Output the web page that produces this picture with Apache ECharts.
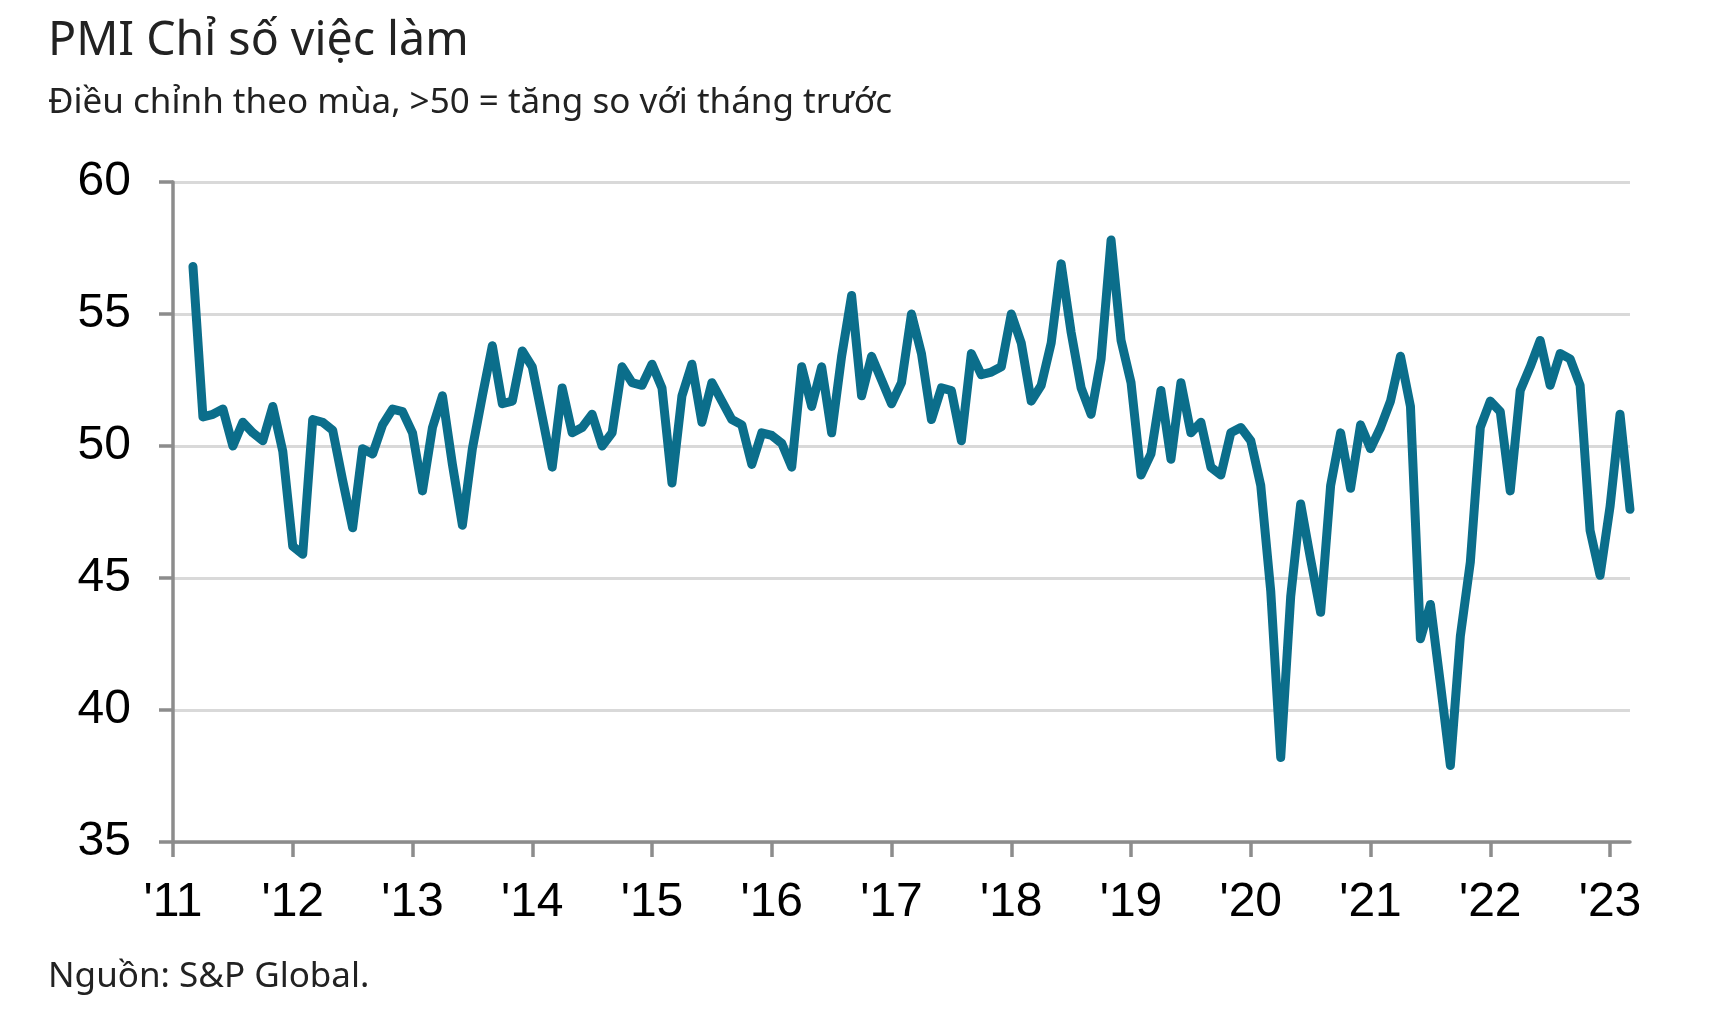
<!DOCTYPE html>
<html>
<head>
<meta charset="utf-8">
<script src="https://cdn.jsdelivr.net/npm/echarts@6/dist/echarts.min.js"></script>
<style>
  html, body { margin: 0; padding: 0; background: #ffffff; }
  #chart { width: 1715px; height: 1027px; }
</style>
</head>
<body>
<div id="chart"></div>
<script>
// ---- Data ----
const titleText = 'PMI Chỉ số việc làm';
const subtitleText = 'Điều chỉnh theo mùa, >50 = tăng so với tháng trước';
const sourceText = 'Nguồn: S&P Global.';

const years = ['2011','2012','2013','2014','2015','2016','2017','2018','2019','2020','2021','2022','2023'];
const yearLabels = ["'11","'12","'13","'14","'15","'16","'17","'18","'19","'20","'21","'22","'23"];
const lastMonth = '2023-03';
const firstDataMonth = '2011-03';

// Monthly employment index, Mar 2011 – Mar 2023
const employment = [
  56.8, 51.1, 51.2, 51.4, 50.0, 50.9, 50.5, 50.2, 51.5, 49.8, 46.2, 45.9,
  51.0, 50.9, 50.6, 48.7, 46.9, 49.9, 49.7, 50.8, 51.4, 51.3, 50.5, 48.3,
  50.7, 51.9, 49.3, 47.0, 49.9, 51.9, 53.8, 51.6, 51.7, 53.6, 53.0, 51.1,
  49.2, 52.2, 50.5, 50.7, 51.2, 50.0, 50.5, 53.0, 52.4, 52.3, 53.1, 52.2,
  48.6, 51.9, 53.1, 50.9, 52.4, 51.7, 51.0, 50.8, 49.3, 50.5, 50.4, 50.1,
  49.2, 53.0, 51.5, 53.0, 50.5, 53.4, 55.7, 51.9, 53.4, 52.5, 51.6, 52.4,
  55.0, 53.5, 51.0, 52.2, 52.1, 50.2, 53.5, 52.7, 52.8, 53.0, 55.0, 53.9,
  51.7, 52.3, 53.9, 56.9, 54.3, 52.2, 51.2, 53.3, 57.8, 54.0, 52.4, 48.9,
  49.7, 52.1, 49.5, 52.4, 50.5, 50.9, 49.2, 48.9, 50.5, 50.7, 50.2, 48.5,
  44.5, 38.2, 44.3, 47.8, 45.7, 43.7, 48.5, 50.5, 48.4, 50.8, 49.9, 50.7,
  51.7, 53.4, 51.5, 42.7, 44.0, 41.0, 37.9, 42.8, 45.6, 50.7, 51.7, 51.3,
  48.3, 52.1, 53.0, 54.0, 52.3, 53.5, 53.3, 52.3, 46.8, 45.1, 47.7, 51.2,
  47.6
];

const yMin = 35, yMax = 60, yStep = 5;

// ---- Build month categories ----
const months = [];
for (const y of years) {
  for (let m = 1; m <= 12; m++) {
    const key = y + '-' + String(m).padStart(2, '0');
    months.push(key);
    if (key === lastMonth) break;
  }
}
const offset = months.indexOf(firstDataMonth);
const seriesData = employment.map((v, i) => [months[i + offset], v]);

const isJan = (idx, val) => String(val).endsWith('-01');

const chart = echarts.init(document.getElementById('chart'), null, { renderer: 'canvas' });
const axisGray = '#8c8c8c';
chart.setOption({
  animation: false,
  backgroundColor: '#ffffff',
  title: [
    { text: titleText, left: 43, top: 13,
      textStyle: { fontFamily: 'Noto Sans', fontSize: 46.5, fontWeight: 'normal', color: '#222222' } },
    { text: subtitleText, left: 43, top: 81,
      textStyle: { fontFamily: 'Noto Sans', fontSize: 35, fontWeight: 'normal', color: '#222222' } },
    { text: sourceText, left: 43, top: 955,
      textStyle: { fontFamily: 'Noto Sans', fontSize: 35, fontWeight: 'normal', color: '#222222' } }
  ],
  grid: { left: 173, right: 85, top: 182, bottom: 185, containLabel: false },
  xAxis: {
    type: 'category',
    data: months,
    boundaryGap: false,
    axisLine: { show: true, lineStyle: { color: axisGray, width: 3.5 } },
    axisTick: { show: true, interval: isJan, length: 15, lineStyle: { color: axisGray, width: 3.5 } },
    axisLabel: {
      show: true, interval: isJan, margin: 37,
      fontFamily: 'Liberation Sans', fontSize: 48, color: '#000000',
      formatter: (val) => yearLabels[years.indexOf(String(val).slice(0, 4))]
    },
    splitLine: { show: false }
  },
  yAxis: {
    type: 'value',
    min: yMin, max: yMax, interval: yStep,
    axisLine: { show: true, lineStyle: { color: axisGray, width: 3.5 } },
    axisTick: { show: true, length: 14, lineStyle: { color: axisGray, width: 3.5 } },
    axisLabel: { margin: 42, fontFamily: 'Liberation Sans', fontSize: 48, color: '#000000' },
    splitLine: { show: true, lineStyle: { color: '#d9d9d9', width: 3 } }
  },
  series: [{
    type: 'line',
    data: seriesData,
    showSymbol: false,
    symbol: 'none',
    z: 5,
    lineStyle: { color: '#0b6e8b', width: 9, cap: 'round', join: 'round' }
  }]
});
</script>
</body>
</html>
